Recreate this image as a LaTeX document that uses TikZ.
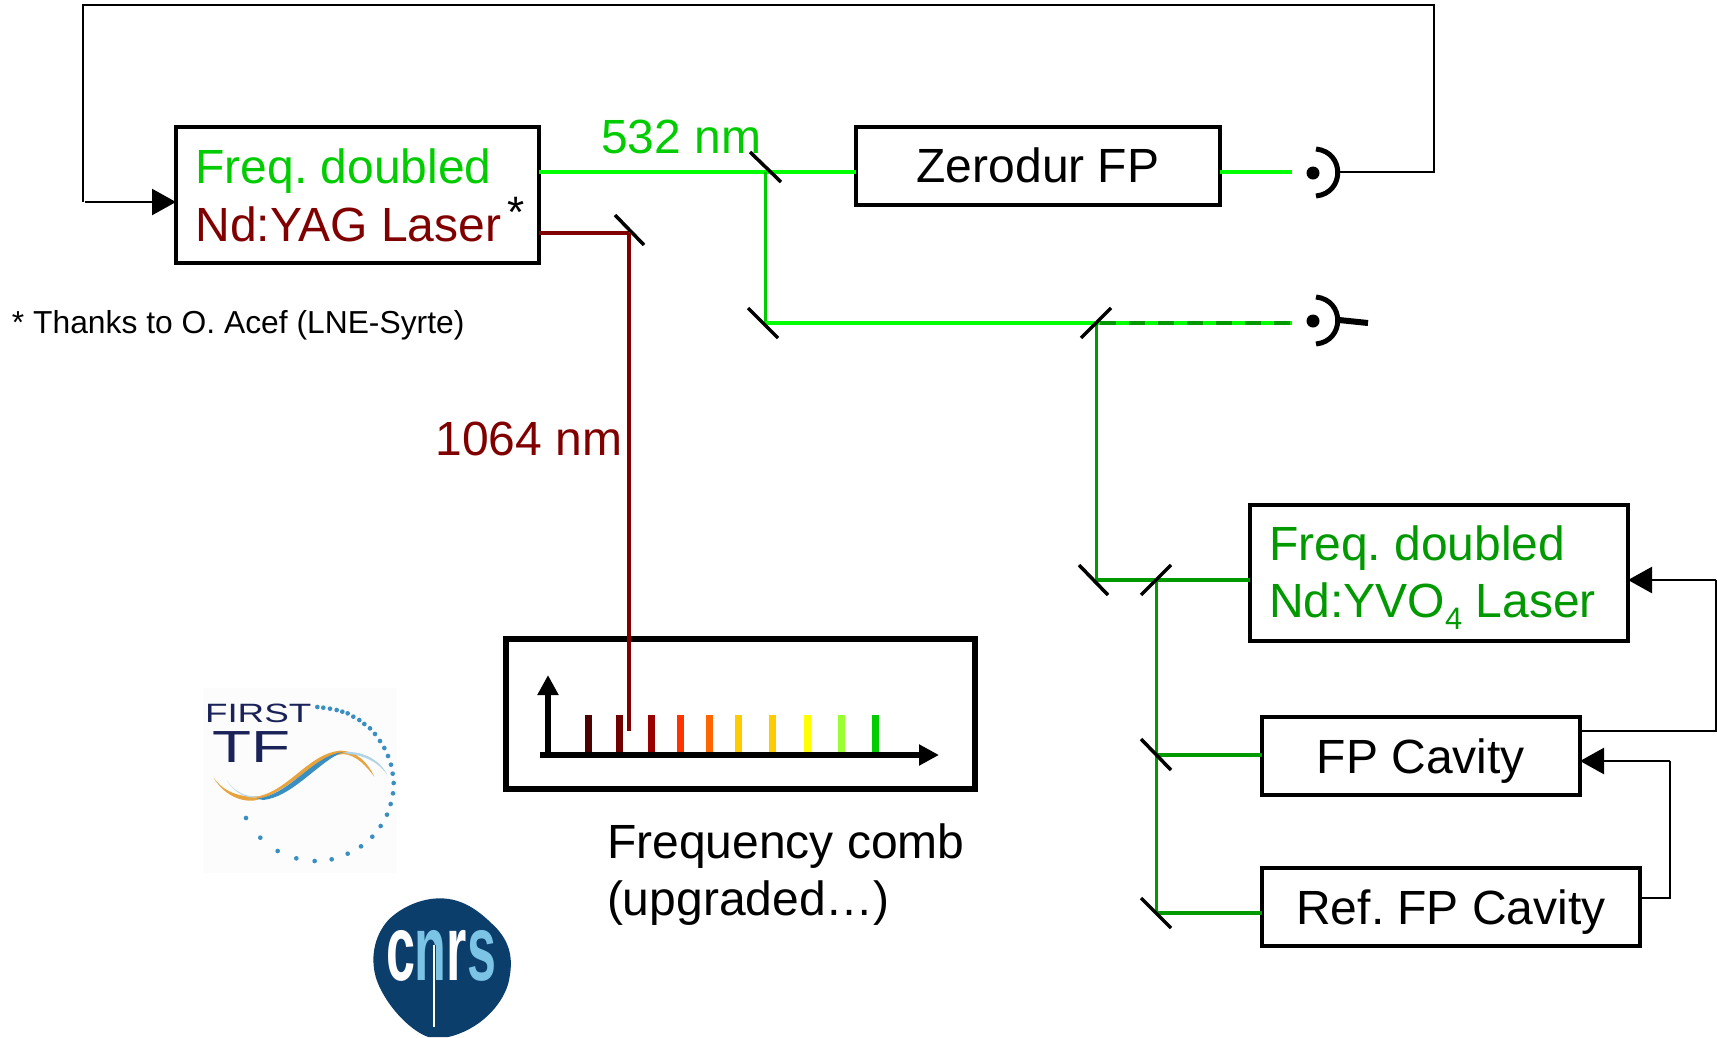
\documentclass[tikz,border=0pt]{standalone}
\usepackage{fontspec}
\usepackage{graphicx}
\setmainfont{Liberation Sans}
\usetikzlibrary{arrows.meta,calc}
\definecolor{lasergreen}{HTML}{00CC00}
\definecolor{beamgreen}{HTML}{00FF00}
\definecolor{darkgreen}{HTML}{009900}
\definecolor{darkred}{HTML}{800000}
\definecolor{logonavy}{HTML}{1A2258}
\definecolor{logoblue}{HTML}{3A8FC2}
\definecolor{logoorange}{HTML}{E8A33D}
\definecolor{cnrsblue}{HTML}{0C3E6C}
\definecolor{cnrslight}{HTML}{7CC4E6}
\newcommand{\bigfont}{\fontsize{48}{48}\selectfont}
\tikzset{
  boxnode/.style={draw=black,line width=4pt,fill=white,rectangle,inner sep=0pt,outer sep=0pt},
  txt/.style={inner sep=0pt,outer sep=0pt,anchor=base west,font=\bigfont},
  boxtxt/.style={boxnode,font=\bigfont,text height=34pt,text depth=0pt},
  mirror/.style={draw=black,line width=3.5pt},
  beamH/.style={draw=beamgreen,line width=4.5pt},
  beamV/.style={draw=lasergreen,line width=3pt},
  beamDark/.style={draw=darkgreen,line width=4pt},
  beamDarkV/.style={draw=darkgreen,line width=3pt},
  redbeam/.style={draw=darkred,line width=4pt},
  feedback/.style={draw=black,line width=1.6pt},
  feedarrow/.style={draw=black,line width=2.4pt,-{Triangle[length=24pt,width=26pt]}},
  detarc/.style={draw=black,line width=5pt},
  detdot/.style={circle,fill=black,inner sep=0pt,minimum size=13pt},
  combtick/.style={line width=7pt},
  axis/.style={draw=black,line width=6pt,-{Triangle[length=20pt,width=20pt]}},
}
\begin{document}
\frenchspacing
\begin{tikzpicture}[x=1pt,y=-1pt]
\useasboundingbox (0,0) rectangle (1717,1037);
\fill[white] (0,0) rectangle (1717,1037);

% ---- reference points
\coordinate (m1) at (765,172);
\coordinate (m2) at (765,323);
\coordinate (m3) at (1096,323);
\coordinate (m4) at (1096,580);
\coordinate (m5) at (1156,580);
\coordinate (m6) at (1156,755);
\coordinate (m7) at (1156,913);
\coordinate (mr) at (629,233);
\coordinate (combend) at (629,731);
\coordinate (d1in) at (1292,172);
\coordinate (d2in) at (1292,323);
\coordinate (a1) at (1338,172);
\coordinate (a2) at (1339,320);
\coordinate (tail) at (1368,323);
\coordinate (fbr) at (1434,172);
\coordinate (fbt) at (1434,5);
\coordinate (fbl) at (83,5);
\coordinate (fbb) at (83,202);
\coordinate (fbc) at (85,202);
\coordinate (fp1) at (1716,731);
\coordinate (fp2) at (1716,580);
\coordinate (rf1) at (1670,898);
\coordinate (rf2) at (1670,761);

% ---- boxes
\node[boxnode,minimum width=363pt,minimum height=136pt] (yag) at (357.5,194.5) {};
\node[boxtxt,minimum width=364pt,minimum height=78pt] (zero) at (1038,165.5) {Zerodur FP};
\node[boxnode,minimum width=378pt,minimum height=136pt] (yvo) at (1439,572.5) {};
\node[boxtxt,minimum width=318pt,minimum height=78pt] (fpc) at (1421,756) {FP Cavity};
\node[boxtxt,minimum width=378pt,minimum height=78pt] (ref) at (1451,907) {Ref. FP Cavity};
\node[boxnode,line width=6.5pt,minimum width=469pt,minimum height=150pt] (comb) at (740.5,714) {};

% ---- box texts
\node[txt,text=lasergreen] (yag1) at (195.5,183) {Freq. doubled};
\node[txt,text=darkred] (yag2) at (195.5,241) {Nd:YAG Laser};
\node[txt,font=\fontsize{44}{44}\selectfont,anchor=base] (star) at (516,227) {*};
\node[txt,text=darkgreen] (yvo1) at (1269,560) {Freq. doubled};
\node[txt,text=darkgreen] (yvo2) at (1269,617) {Nd:YVO\raisebox{-12pt}{\fontsize{31}{31}\selectfont 4} Laser};
\node[txt,font=\fontsize{31.8}{32}\selectfont] (thanks) at (12,333) {* Thanks to O. Acef (LNE-Syrte)};
\node[txt,text=lasergreen] (l532) at (601,153) {532 nm};
\node[txt,text=darkred] (l1064) at (435.5,455) {1064 nm};
\node[txt] (fc1) at (607,858) {Frequency comb};
\node[txt] (fc2) at (607,915) {(upgraded…)};

% ---- beams
\draw[beamH] (yag.east |- m1) -- (m1) -- (zero.west |- m1);
\draw[beamV] (m1) -- (m2);
\draw[beamH] (m2) -- (m3);
\draw[beamH] (m3) -- (d2in);
\draw[beamDark,dash pattern=on 16pt off 13pt] ($(m3)+(4,0)$) -- (d2in);
\draw[beamH] (zero.east |- d1in) -- (d1in);
\draw[beamDarkV] (m3) -- (m4);
\draw[beamDark] (m4) -- (yvo.west |- m4);
\draw[beamDarkV] (m5) -- (m7);
\draw[beamDark] (m6) -- (fpc.west |- m6);
\draw[beamDark] (m7) -- (ref.west |- m7);
\draw[redbeam] (yag.east |- mr) -- (mr);

% ---- mirrors
\draw[mirror] (750,152) -- (781,182);
\draw[mirror] (748,308) -- (778,338);
\draw[mirror] (1081,338) -- (1111,308);
\draw[mirror] (1079,565) -- (1108,595);
\draw[mirror] (1141,595) -- (1171,565);
\draw[mirror] (1141,739) -- (1171,770);
\draw[mirror] (1141,898) -- (1171,928);
\draw[mirror] (615,215) -- (644,245);

% ---- detectors
\node[detdot] (d1) at (1313,173) {};
\node[detdot] (d2) at (1313,321) {};
\draw[detarc] (1316,149) .. controls (1345,152) and (1345,193) .. (1316,196);
\draw[detarc] (1316,297) .. controls (1345,300) and (1345,341) .. (1316,344);
\draw[draw=black,line width=6pt] (a2) -- (tail);

% ---- feedback
\draw[feedback] (a1) -- (fbr) -- (fbt) -- (fbl) -- (fbb);
\draw[feedarrow] (fbc) -- (yag.west |- fbc);
\draw[feedback] (fpc.east |- fp1) -- (fp1) -- (fp2);
\draw[feedarrow] (fp2) -- (yvo.east |- fp2);
\draw[feedback] (ref.east |- rf1) -- (rf1) -- (rf2);
\draw[feedarrow] (rf2) -- (fpc.east |- rf2);

% ---- comb
\foreach \x/\c in {588/4D0000,619/700000,651/990000,680/FF3300,709/FF6600,738/FFCC00,772/FFCC00,807/FFFF00,841/99FF33,875/00CC00}{
  \definecolor{tickc}{HTML}{\c}
  \draw[combtick,draw=tickc] (\x,715) -- (\x,755);
}
\coordinate (ax0) at (540,755);
\coordinate (ax1) at (939,755);
\coordinate (ay0) at (548,755);
\coordinate (ay1) at (548,675);
\draw[axis] (ax0) -- (ax1);
\draw[axis] (ay0) -- (ay1);
\draw[redbeam] (mr) -- (combend);

% ---- FIRST-TF logo
\fill[white!99!black] (203,688) rectangle (397,873);
\begin{scope}[shift={(180,660)},scale=0.33333]
  \fill[logoorange] (100,352) .. controls (130,395) and (180,415) .. (240,408)
     .. controls (330,385) and (390,280) .. (480,272)
     .. controls (530,272) and (565,310) .. (583,350)
     .. controls (560,320) and (530,285) .. (490,282)
     .. controls (400,290) and (330,400) .. (220,422)
     .. controls (170,425) and (125,395) .. (100,352) -- cycle;
  \fill[logoblue!35] (140,360) .. controls (160,390) and (190,412) .. (240,410)
     .. controls (200,422) and (160,395) .. (140,360) -- cycle;
  \fill[logoblue] (230,416) .. controls (330,405) and (400,285) .. (490,276)
     .. controls (420,300) and (340,410) .. (250,420) -- cycle;
  \fill[logoblue!40] (490,276) .. controls (550,272) and (600,300) .. (622,345)
     .. controls (595,305) and (550,285) .. (505,282) -- cycle;
  \foreach \px/\py in {198/474,241/533,293/573,349/595,404/603,455/598,503/581,543/559,577/530,602/498,621/464,632/432,639/400,641/369,638/341,633/314,624/288,613/264,600/243,585/222,570/205,553/192,538/180,520/170,503/160,487/155,470/150,450/146,430/143,412/141}{
    \fill[logoblue] (\px,\py) circle (7);
  }
\end{scope}
\node[txt,text=logonavy,font=\fontsize{26.5}{26.5}\selectfont] (first) at (205,722) {\scalebox{1.39}[1]{FIRST}};
\node[txt,text=logonavy,font=\fontsize{45}{45}\selectfont] (tf) at (212,762) {\scalebox{1.42}[1]{TF}};

% ---- CNRS logo
\begin{scope}[shift={(365,890)},scale=0.33333]
  \fill[cnrsblue] (225,25) .. controls (300,25) and (350,70) .. (395,115)
     .. controls (440,165) and (445,215) .. (430,280)
     .. controls (410,350) and (340,420) .. (250,441)
     -- (190,441)
     .. controls (130,420) and (60,340) .. (35,270)
     .. controls (15,210) and (25,140) .. (70,90)
     .. controls (110,50) and (170,25) .. (225,25) -- cycle;
\end{scope}
\node[txt,font=\bfseries\fontsize{93}{93}\selectfont] (cnrs) at (386,980) {\scalebox{0.56}[1]{\textcolor{white}{c}\textcolor{cnrslight}{n}\textcolor{white}{r}\textcolor{cnrslight}{s}}};
\coordinate (cl0) at (434,945);
\coordinate (cl1) at (434,1027);
\draw[cnrsblue,line width=4pt] (cl0) -- ($(cl0)+(0,35)$);
\draw[white,line width=1.8pt] (cl0) -- (cl1);
\end{tikzpicture}
\end{document}
